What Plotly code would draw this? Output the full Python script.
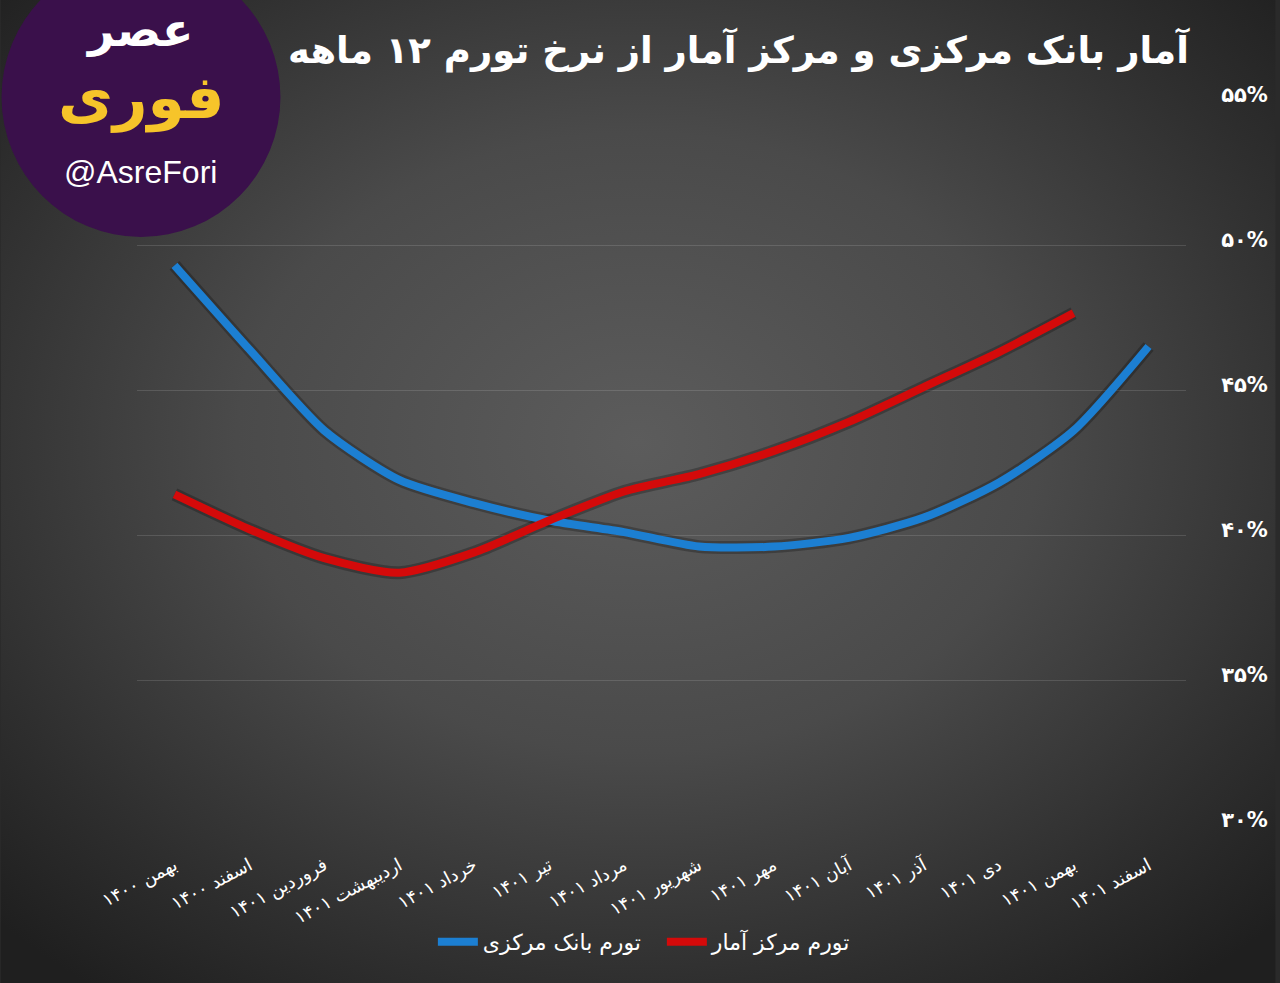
import base64
import plotly.graph_objects as go

# ---- data ----
months = ["بهمن ۱۴۰۰", "اسفند ۱۴۰۰", "فروردین ۱۴۰۱", "اردیبهشت ۱۴۰۱", "خرداد ۱۴۰۱",
          "تیر ۱۴۰۱", "مرداد ۱۴۰۱", "شهریور ۱۴۰۱", "مهر ۱۴۰۱", "آبان ۱۴۰۱",
          "آذر ۱۴۰۱", "دی ۱۴۰۱", "بهمن ۱۴۰۱", "اسفند ۱۴۰۱"]
central_bank = [49.3, 46.4, 43.6, 41.9, 41.1, 40.5, 40.1, 39.6, 39.6, 39.9, 40.6, 41.8, 43.6, 46.5]
statistics_center = [41.4, 40.2, 39.2, 38.7, 39.4, 40.5, 41.5, 42.1, 42.9, 43.9, 45.1, 46.3, 47.65, None]
y_ticks = [30, 35, 40, 45, 50, 55]
y_tick_labels = ["۳۰%", "۳۵%", "۴۰%", "۴۵%", "۵۰%", "۵۵%"]
name_cb = "تورم بانک مرکزی"
name_sc = "تورم مرکز آمار"
title = "آمار بانک مرکزی و مرکز آمار از نرخ تورم ۱۲ ماهه"

W, H = 1280, 983
ML, MR, MT, MB = 137, 90, 100, 158
PW, PH = W - ML - MR, H - MT - MB

def px_x(px):
    return (px - ML) / PW

def px_y(py):
    return (H - MB - py) / PH

FONT = "DejaVu Sans"

# radial gradient background as SVG
svg = f'''<svg xmlns="http://www.w3.org/2000/svg" width="{W}" height="{H}" viewBox="0 0 {W} {H}">
<defs><radialGradient id="g" cx="50%" cy="45%" r="70%">
<stop offset="0" stop-color="#5c5c5c"/>
<stop offset="0.45" stop-color="#4a4a4a"/>
<stop offset="0.8" stop-color="#2e2e2e"/>
<stop offset="1" stop-color="#1f1f1f"/>
</radialGradient></defs>
<rect width="{W}" height="{H}" fill="url(#g)"/></svg>'''
bg_uri = "data:image/svg+xml;base64," + base64.b64encode(svg.encode()).decode()

fig = go.Figure()

# soft shadows under the lines
for vals in (central_bank, statistics_center):
    fig.add_trace(go.Scatter(x=months, y=vals, mode="lines", showlegend=False, hoverinfo="skip",
                             line=dict(color="rgba(0,0,0,0.25)", width=13, shape="spline", smoothing=0.7)))

fig.add_trace(go.Scatter(x=months, y=central_bank, mode="lines", name=name_cb,
                         line=dict(color="#1c7fd2", width=8, shape="spline", smoothing=0.7)))
fig.add_trace(go.Scatter(x=months, y=statistics_center, mode="lines", name=name_sc,
                         line=dict(color="#d40a0a", width=8, shape="spline", smoothing=0.7)))

annotations = [
    dict(text=f"<b>{title}</b>", x=px_x(1196), y=px_y(50), xref="paper", yref="paper",
         xanchor="right", yanchor="middle", showarrow=False,
         font=dict(family=FONT, size=37, color="white")),
    dict(text="<b>عصر</b>", x=px_x(140), y=px_y(30), xref="paper", yref="paper",
         xanchor="center", yanchor="middle", showarrow=False,
         font=dict(family=FONT, size=46, color="white")),
    dict(text="<b>فوری</b>", x=px_x(141), y=px_y(98), xref="paper", yref="paper",
         xanchor="center", yanchor="middle", showarrow=False,
         font=dict(family=FONT, size=60, color="#f6c42a")),
    dict(text="@AsreFori", x=px_x(141), y=px_y(172), xref="paper", yref="paper",
         xanchor="center", yanchor="middle", showarrow=False,
         font=dict(family="Liberation Sans", size=32, color="white")),
]

shapes = [
    dict(type="circle", xref="paper", yref="paper",
         x0=px_x(1), x1=px_x(281), y0=px_y(237), y1=px_y(-43),
         fillcolor="#3a104b", line=dict(width=0), layer="above"),
]

fig.update_layout(
    width=W, height=H,
    margin=dict(l=ML, r=MR, t=MT, b=MB),
    paper_bgcolor="#2a2a2a",
    plot_bgcolor="rgba(0,0,0,0)",
    images=[dict(source=bg_uri, xref="paper", yref="paper",
                 x=px_x(0), y=px_y(0), sizex=W / PW, sizey=H / PH,
                 xanchor="left", yanchor="top", sizing="stretch", layer="below")],
    annotations=annotations,
    shapes=shapes,
    showlegend=True,
    legend=dict(orientation="h", x=px_x(434), xanchor="left", y=px_y(942), yanchor="middle",
                font=dict(family=FONT, size=22, color="white"), bgcolor="rgba(0,0,0,0)",
                itemwidth=40, tracegroupgap=0, entrywidth=174),
    xaxis=dict(type="category", categoryorder="array", categoryarray=months,
               range=[-0.5, 13.5], showgrid=False, zeroline=False, showline=False,
               tickangle=-28, ticks="outside", ticklen=22, tickcolor="rgba(0,0,0,0)",
               tickfont=dict(family=FONT, size=18, color="white")),
    yaxis=dict(side="right", range=[30, 55], tickvals=y_ticks, ticktext=y_tick_labels,
               showgrid=True, gridcolor="rgba(255,255,255,0.13)", gridwidth=1,
               zeroline=False, showline=False, ticks="outside", ticklen=30,
               tickcolor="rgba(0,0,0,0)", ticklabelshift=-5,
               tickfont=dict(family=FONT, size=21, color="white", weight="bold")),
)

fig.write_html("out.html", config={"displayModeBar": False},
               post_script="document.body.style.margin='0';document.body.style.background='#222';")
